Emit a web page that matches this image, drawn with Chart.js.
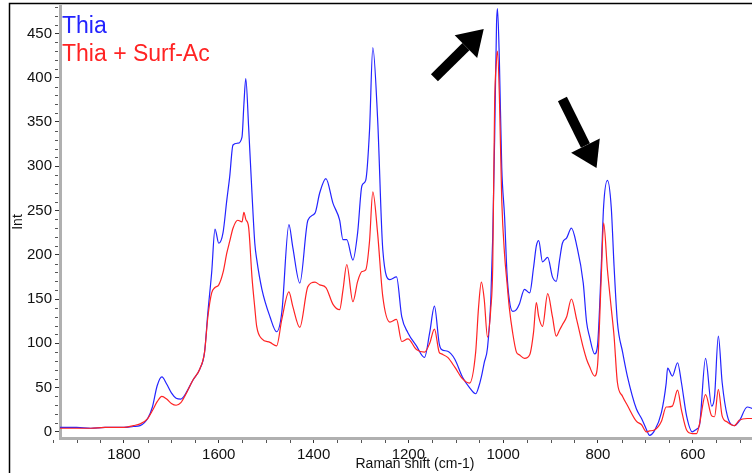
<!DOCTYPE html>
<html>
<head>
<meta charset="utf-8">
<script src="https://cdn.jsdelivr.net/npm/chart.js@4"></script>
<style>
  html, body { margin: 0; padding: 0; background: #fff; overflow: hidden; }
  #wrap { width: 770px; height: 473px; }
</style>
</head>
<body>
<div id="wrap"><canvas id="raman"></canvas></div>
<script>
// Raman shift (cm-1), descending
const shift = [1935, 1900, 1870, 1840, 1800, 1780, 1766, 1750, 1740, 1730, 1720, 1710, 1700, 1690, 1680,
  1670, 1655, 1640, 1630, 1623, 1615, 1608, 1600, 1591, 1583, 1577, 1570, 1560, 1551, 1547,
  1543, 1537, 1530, 1524, 1520, 1509, 1492, 1478, 1467, 1452, 1444, 1429, 1412, 1397, 1387,
  1374, 1359, 1345, 1338, 1330, 1317, 1307, 1298, 1290, 1282, 1275, 1265, 1254, 1239, 1225,
  1214, 1201, 1183, 1166, 1155, 1145, 1135, 1130, 1117, 1102, 1086, 1071, 1058, 1052, 1046,
  1040, 1033, 1026, 1022, 1018, 1014, 1012, 1008, 1003, 997, 992, 987, 980, 972, 966,
  955, 944, 936, 930, 925, 917, 906, 896, 888, 881, 875, 866, 856, 845, 831,
  824, 818, 807, 801, 793, 788, 780, 772, 766, 759, 748, 738, 719, 708, 698,
  691, 681, 666, 656, 653, 643, 632, 624, 613, 601, 592, 586, 573, 560, 554,
  546, 538, 527, 512, 502, 485, 473];

// Thia (blue)
const thia = [5, 5, 4, 5, 5, 6, 7, 15, 28, 52, 62, 54, 44, 38, 37,
  43, 58, 71, 90, 135, 180, 229, 213, 225, 262, 288, 324, 326, 333, 370,
  399, 344, 270, 213, 195, 161, 130, 113, 135, 234, 209, 168, 239, 247, 270,
  286, 258, 239, 217, 217, 194, 225, 278, 284, 340, 434, 355, 206, 172, 175,
  130, 112, 97, 84, 112, 142, 100, 93, 91, 82, 62, 50, 43, 50, 62,
  78, 95, 150, 220, 330, 460, 478, 420, 299, 243, 180, 149, 136, 138, 144,
  161, 157, 185, 210, 216, 192, 197, 175, 170, 194, 213, 219, 230, 211, 168,
  124, 108, 88, 97, 187, 255, 284, 254, 187, 124, 90, 63, 26, 15, 3,
  -4, 1, 22, 55, 72, 63, 78, 56, 18, 0, 3, 7, 83, 29, 40,
  108, 56, 18, 7, 12, 28, 26];

// Thia + Surf-Ac (red)
const thiaSurf = [4, 4, 4, 5, 5, 7, 9, 15, 24, 34, 40, 37, 32, 30, 33,
  42, 58, 71, 90, 130, 157, 163, 166, 180, 202, 215, 230, 239, 237, 248,
  240, 231, 175, 140, 119, 105, 101, 97, 127, 158, 142, 118, 164, 169, 166,
  163, 144, 138, 160, 189, 147, 170, 181, 183, 215, 271, 225, 153, 124, 127,
  102, 105, 93, 90, 100, 116, 90, 88, 84, 73, 60, 55, 90, 140, 169,
  150, 107, 140, 187, 370, 420, 430, 380, 262, 200, 169, 140, 112, 90, 87,
  83, 87, 112, 146, 130, 119, 156, 130, 108, 115, 121, 130, 150, 127, 95,
  82, 74, 63, 74, 175, 236, 183, 140, 108, 56, 40, 30, 12, 8, 0,
  1, 2, 12, 28, 28, 29, 47, 25, 2, -2, -2, 8, 42, 18, 17,
  48, 18, 11, 7, 13, 15, 15];

const xTicks = [1800, 1600, 1400, 1200, 1000, 800, 600];
const yTicks = [0, 50, 100, 150, 200, 250, 300, 350, 400, 450];
const seriesNames = ['Thia', 'Thia + Surf-Ac'];
const seriesColors = ['rgb(35,35,255)', 'rgb(255,35,35)'];

// arrows: [tailShift, tailInt, tipShift, tipInt]
const arrows = [
  [1145, 400, 1041, 455],
  [875, 376, 803, 298],
];

const fontFam = '"Liberation Sans", Arial, sans-serif';

const extras = {
  id: 'extras',
  afterDraw(chart) {
    const { ctx, chartArea, scales } = chart;
    const xs = scales.x, ys = scales.y;
    ctx.save();
    // outer frame (left + top)
    ctx.strokeStyle = '#000';
    ctx.lineWidth = 1.5;
    ctx.beginPath();
    ctx.moveTo(9.5, chart.height + 2);
    ctx.lineTo(9.5, 3.5);
    ctx.lineTo(chart.width + 2, 3.5);
    ctx.stroke();

    // minor ticks
    ctx.strokeStyle = '#555';
    ctx.lineWidth = 1;
    ctx.beginPath();
    for (let v = 0; v <= 480; v += 10) {
      if (v % 50 === 0) continue;
      const py = Math.round(ys.getPixelForValue(v)) + 0.5;
      ctx.moveTo(chartArea.left - 2, py);
      ctx.lineTo(chartArea.left - 5, py);
    }
    for (let v = 450; v <= 1950; v += 50) {
      if (v % 200 === 0) continue;
      const px = Math.round(xs.getPixelForValue(v)) + 0.5;
      ctx.moveTo(px, chartArea.bottom + 2);
      ctx.lineTo(px, chartArea.bottom + 5);
    }
    ctx.stroke();

    // legend text
    ctx.font = '23px ' + fontFam;
    ctx.textBaseline = 'alphabetic';
    ctx.textAlign = 'left';
    seriesNames.forEach((n, i) => {
      ctx.fillStyle = seriesColors[i];
      ctx.fillText(n, chartArea.left + 2, 33 + i * 28);
    });

    // arrows
    ctx.fillStyle = '#000';
    ctx.strokeStyle = '#000';
    for (const a of arrows) {
      const x1 = xs.getPixelForValue(a[0]), y1 = ys.getPixelForValue(a[1]);
      const x2 = xs.getPixelForValue(a[2]), y2 = ys.getPixelForValue(a[3]);
      const ang = Math.atan2(y2 - y1, x2 - x1);
      const headLen = 25, headW = 16;
      const bx = x2 - headLen * Math.cos(ang), by = y2 - headLen * Math.sin(ang);
      ctx.lineWidth = 10;
      ctx.lineCap = 'butt';
      ctx.beginPath();
      ctx.moveTo(x1, y1);
      ctx.lineTo(bx, by);
      ctx.stroke();
      ctx.beginPath();
      ctx.moveTo(x2, y2);
      ctx.lineTo(bx + headW * Math.sin(ang), by - headW * Math.cos(ang));
      ctx.lineTo(bx - headW * Math.sin(ang), by + headW * Math.cos(ang));
      ctx.closePath();
      ctx.fill();
    }
    ctx.restore();
  }
};

new Chart(document.getElementById('raman'), {
  type: 'line',
  data: {
    datasets: [thia, thiaSurf].map((vals, i) => ({
      label: seriesNames[i],
      data: vals.map((v, k) => ({ x: shift[k], y: v })),
      borderColor: seriesColors[i],
      borderWidth: 1.2,
      pointRadius: 0,
      cubicInterpolationMode: 'monotone',
      fill: false,
    })).reverse(),
  },
  options: {
    responsive: true,
    maintainAspectRatio: false,
    animation: false,
    events: [],
    layout: { padding: { left: 10, top: 4, right: 0, bottom: 0 } },
    plugins: {
      legend: { display: false },
      tooltip: { enabled: false },
    },
    scales: {
      x: {
        type: 'linear',
        reverse: true,
        min: 437,
        max: 1935,
        afterBuildTicks: (s) => { s.ticks = xTicks.map((v) => ({ value: v })); },
        afterFit: (s) => { s.height = 35; },
        grid: { drawOnChartArea: false, tickLength: 5, color: '#333' },
        border: { color: '#b0b0b0', width: 3 },
        ticks: { color: '#111', font: { family: fontFam, size: 15 }, padding: 3, maxRotation: 0, callback: (v) => String(v) },
        title: { display: true, text: 'Raman shift (cm-1)', color: '#111', font: { family: fontFam, size: 14 }, padding: { top: 0, bottom: 0 } },
      },
      y: {
        min: -7,
        max: 481,
        afterBuildTicks: (s) => { s.ticks = yTicks.map((v) => ({ value: v })); },
        afterFit: (s) => { s.width = 50; },
        grid: { drawOnChartArea: false, tickLength: 5, color: '#333' },
        border: { color: '#b0b0b0', width: 3 },
        ticks: { color: '#111', font: { family: fontFam, size: 15, lineHeight: 0.4 }, padding: 3 },
        title: { display: true, text: 'Int', color: '#111', font: { family: fontFam, size: 14 }, padding: { top: 0, bottom: 0 } },
      },
    },
  },
  plugins: [extras],
});
</script>
</body>
</html>
